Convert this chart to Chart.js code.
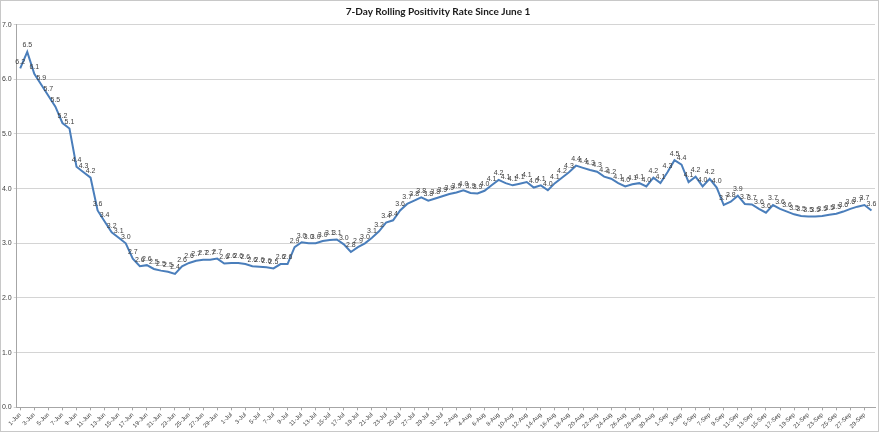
<!DOCTYPE html>
<html>
<head>
<meta charset="utf-8">
<script src="https://cdn.jsdelivr.net/npm/chart.js@4.4.1/dist/chart.umd.min.js"></script>
<style>
  html, body { margin: 0; padding: 0; background: #fff; }
  #frame { position: absolute; left: 0; top: 0; width: 877px; height: 430px; border: 1px solid #c8c8c8; }
  #frame canvas { display: block; }
</style>
</head>
<body>
<div id="frame"><canvas id="chart" width="877" height="430"></canvas></div>
<script>
const TITLE = '7-Day Rolling Positivity Rate Since June 1';

// one value per day
const june = [6.2, 6.5, 6.1, 5.9, 5.7, 5.5, 5.2, 5.1, 4.4, 4.3,
  4.2, 3.6, 3.4, 3.2, 3.1, 3.0, 2.72, 2.58, 2.6, 2.53,
  2.5, 2.48, 2.44, 2.58, 2.64, 2.68, 2.7, 2.7, 2.72, 2.63];
const july = [2.64, 2.64, 2.62, 2.58, 2.57, 2.56, 2.54, 2.62, 2.62, 2.93,
  3.02, 3.0, 3.0, 3.04, 3.06, 3.07, 2.98, 2.84, 2.93, 3.0,
  3.1, 3.22, 3.38, 3.42, 3.6, 3.72, 3.78, 3.84, 3.78, 3.82, 3.86];
const august = [3.9, 3.93, 3.97, 3.92, 3.91, 3.96, 4.06, 4.16, 4.1, 4.06,
  4.09, 4.12, 4.02, 4.06, 3.97, 4.1, 4.2, 4.3, 4.42, 4.38,
  4.34, 4.31, 4.22, 4.18, 4.1, 4.04, 4.08, 4.1, 4.04, 4.2, 4.1];
const september = [4.3, 4.52, 4.44, 4.12, 4.22, 4.04, 4.18, 4.02, 3.7, 3.76,
  3.87, 3.72, 3.71, 3.63, 3.56, 3.7, 3.63, 3.58, 3.53, 3.5,
  3.49, 3.49, 3.5, 3.52, 3.54, 3.58, 3.63, 3.67, 3.7, 3.6];

const months = [['Jun', june], ['Jul', july], ['Aug', august], ['Sep', september]];
const labels = [];
const values = [];
months.forEach(([name, arr]) => {
  arr.forEach((v, i) => { labels.push((i + 1) + '-' + name); values.push(v); });
});

const yTicks = [0, 1, 2, 3, 4, 5, 6, 7];

// point value labels above the line
const pointLabels = {
  id: 'pointLabels',
  afterDatasetsDraw(chart) {
    const ctx = chart.ctx;
    const meta = chart.getDatasetMeta(0);
    ctx.save();
    ctx.font = '7px "Liberation Sans", Arial, sans-serif';
    ctx.fillStyle = '#404040';
    ctx.textAlign = 'center';
    ctx.textBaseline = 'bottom';
    meta.data.forEach((pt, i) => {
      ctx.fillText(values[i].toFixed(1), pt.x, pt.y - 3);
    });
    ctx.restore();
  }
};

new Chart(document.getElementById('chart'), {
  type: 'line',
  data: {
    labels: labels,
    datasets: [{
      data: values,
      borderColor: '#4a7ebb',
      borderWidth: 2,
      pointRadius: 0,
      tension: 0,
      fill: false
    }]
  },
  options: {
    responsive: false,
    animation: false,
    layout: { padding: { left: 0, right: 3, top: 0, bottom: 0 } },
    plugins: {
      legend: { display: false },
      tooltip: { enabled: false },
      title: {
        display: true,
        text: TITLE,
        color: '#1a1a1a',
        font: { family: 'Lato, "Liberation Sans", sans-serif', size: 10, weight: 'bold', lineHeight: 1.2 },
        padding: { top: 5, bottom: 6.6 }
      }
    },
    scales: {
      x: {
        offset: true,
        grid: {
          drawOnChartArea: false,
          tickLength: 3,
          color: (c) => (c.index % 2 === 0 ? '#a6a6a6' : 'rgba(0,0,0,0)'),
          offset: false
        },
        border: { color: '#a6a6a6', width: 1 },
        ticks: {
          autoSkip: false,
          minRotation: 45,
          maxRotation: 45,
          padding: 1,
          color: '#404040',
          font: { family: '"Liberation Sans", Arial, sans-serif', size: 6 },
          callback: (v, i) => (i % 2 === 0 ? labels[i] : '')
        },
        afterFit: (s) => { s.height = 23.7; }
      },
      y: {
        min: 0,
        max: 7,
        afterBuildTicks: (s) => { s.ticks = yTicks.map(v => ({ value: v })); },
        grid: { color: '#d4d4d4', lineWidth: 1, tickLength: 3 },
        border: { color: '#a6a6a6', width: 1 },
        ticks: {
          padding: 2,
          color: '#404040',
          font: { family: '"Liberation Sans", Arial, sans-serif', size: 7 },
          callback: (v) => Number(v).toFixed(1)
        },
        afterFit: (s) => { s.width = 15.7; }
      }
    }
  },
  plugins: [pointLabels]
});
</script>
</body>
</html>
